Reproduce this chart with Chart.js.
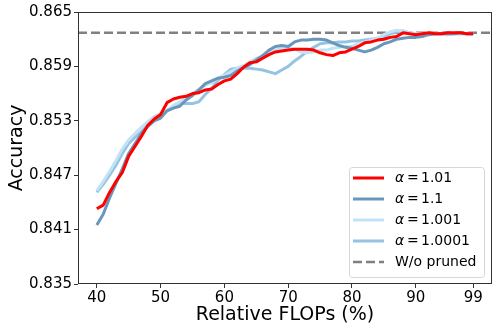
<!DOCTYPE html>
<html>
<head>
<meta charset="utf-8">
<script src="https://cdn.jsdelivr.net/npm/chart.js@4.4.0/dist/chart.umd.min.js"></script>
<style>
    html, body { margin: 0; padding: 0; background: #fff; }
    #wrap { width: 498px; height: 332px; }
</style>
</head>
<body>
<div id="wrap"><canvas id="chart" width="498" height="332"></canvas></div>
<script>
// Relative FLOPs (%) on the x axis
const flops = [40, 41, 42, 43, 44, 45, 46, 47, 48, 49,
               50, 51, 52, 53, 54, 55, 56, 57, 58, 59,
               60, 61, 62, 63, 64, 65, 66, 67, 68, 69,
               70, 71, 72, 73, 74, 75, 76, 77, 78, 79,
               80, 81, 82, 83, 84, 85, 86, 87, 88, 89,
               90, 91, 92, 93, 94, 95, 96, 97, 98, 99];

// alpha = 1.01
const acc101 = [0.8433, 0.8437, 0.8451, 0.8463, 0.8473, 0.8491, 0.8502, 0.8513, 0.8525, 0.8532,
                0.8537, 0.8550, 0.8554, 0.8556, 0.8557, 0.8560, 0.8561, 0.8564, 0.8565, 0.8570,
                0.8574, 0.8576, 0.8582, 0.8589, 0.8594, 0.8595, 0.8599, 0.8603, 0.8606, 0.8607,
                0.8608, 0.8609, 0.8609, 0.8609, 0.8608, 0.8605, 0.8603, 0.8602, 0.8605, 0.8606,
                0.8609, 0.8612, 0.8616, 0.8617, 0.8619, 0.8620, 0.8622, 0.8623, 0.8627, 0.8626,
                0.8625, 0.8626, 0.8627, 0.8626, 0.8626, 0.8627, 0.8627, 0.8627, 0.8626, 0.8626];

// alpha = 1.1
const acc11 = [0.8415, 0.8427, 0.8445, 0.8461, 0.8477, 0.8494, 0.8505, 0.8516, 0.8524, 0.8530,
               0.8533, 0.8541, 0.8544, 0.8546, 0.8553, 0.8558, 0.8564, 0.8571, 0.8574, 0.8577,
               0.8578, 0.8580, 0.8585, 0.8589, 0.8592, 0.8597, 0.8602, 0.8608, 0.8612, 0.8613,
               0.8612, 0.8617, 0.8619, 0.8619, 0.8620, 0.8620, 0.8619, 0.8616, 0.8613, 0.8611,
               0.8610, 0.8608, 0.8606, 0.8608, 0.8611, 0.8615, 0.8617, 0.8620, 0.8621, 0.8622,
               0.8622, 0.8623, 0.8625, 0.8626, 0.8626, 0.8626, 0.8626, 0.8627, 0.8626, 0.8626];

// alpha = 1.001
const acc1001 = [0.8453, 0.8463, 0.8474, 0.8486, 0.8499, 0.8509, 0.8516, 0.8523, 0.8529, 0.8535,
                 0.8538, 0.8541, 0.8547, 0.8551, 0.8555, 0.8559, 0.8565, 0.8569, 0.8572, 0.8577,
                 0.8580, 0.8584, 0.8588, 0.8591, 0.8595, 0.8599, 0.8601, 0.8605, 0.8608, 0.8610,
                 0.8611, 0.8609, 0.8606, 0.8605, 0.8606, 0.8608, 0.8608, 0.8610, 0.8611, 0.8612,
                 0.8612, 0.8615, 0.8617, 0.8619, 0.8621, 0.8625, 0.8628, 0.8630, 0.8629, 0.8627,
                 0.8626, 0.8626, 0.8626, 0.8626, 0.8626, 0.8625, 0.8626, 0.8626, 0.8626, 0.8626];

// alpha = 1.0001
const acc10001 = [0.8451, 0.8460, 0.8470, 0.8481, 0.8494, 0.8505, 0.8512, 0.8518, 0.8526, 0.8532,
                  0.8536, 0.8541, 0.8546, 0.8550, 0.8549, 0.8549, 0.8551, 0.8559, 0.8566, 0.8575,
                  0.8581, 0.8587, 0.8588, 0.8588, 0.8588, 0.8587, 0.8586, 0.8584, 0.8582, 0.8586,
                  0.8590, 0.8596, 0.8601, 0.8607, 0.8611, 0.8615, 0.8616, 0.8616, 0.8617, 0.8617,
                  0.8618, 0.8618, 0.8619, 0.8620, 0.8621, 0.8622, 0.8626, 0.8628, 0.8629, 0.8627,
                  0.8626, 0.8626, 0.8626, 0.8626, 0.8626, 0.8626, 0.8626, 0.8626, 0.8626, 0.8626];

// unpruned model accuracy (horizontal dashed line)
const baseline = 0.8627;

const alphaLabels = ['1.01', '1.1', '1.001', '1.0001'];
const xTicks = [40, 50, 60, 70, 80, 90, 99];
const yTicks = [0.835, 0.841, 0.847, 0.853, 0.859, 0.865];
const xMin = 37.05;
const xMax = 101.95;

function toPoints(values) {
    return flops.map((f, i) => ({ x: f, y: values[i] }));
}

// Frame around the plot area (all four spines)
const frame = {
    id: 'frame',
    afterDatasetsDraw(chart) {
        const { ctx, chartArea: a } = chart;
        ctx.save();
        ctx.strokeStyle = '#333';
        ctx.lineWidth = 1;
        ctx.strokeRect(a.left + 0.5, a.top + 0.5, a.right - a.left - 1, a.bottom - a.top - 1);
        ctx.restore();
    }
};

// Legend drawn inside the plot, bottom right
const insideLegend = {
    id: 'insideLegend',
    afterDraw(chart) {
        const { ctx, chartArea: a } = chart;
        const boxW = 135, boxH = 110;
        const bx = a.right - boxW - 8;
        const by = a.bottom - boxH - 7;
        ctx.save();
        ctx.fillStyle = 'rgba(255,255,255,0.85)';
        ctx.strokeStyle = '#d6d6d6';
        ctx.lineWidth = 1;
        ctx.beginPath();
        ctx.roundRect(bx + 0.5, by + 0.5, boxW, boxH, 3);
        ctx.fill();
        ctx.stroke();

        chart.data.datasets.forEach((ds, i) => {
            const yy = by + 11 + i * 21;
            ctx.strokeStyle = ds.borderColor;
            ctx.lineWidth = ds.borderWidth;
            ctx.setLineDash(ds.borderDash || []);
            ctx.beginPath();
            ctx.moveTo(bx + 4, yy);
            ctx.lineTo(bx + 35, yy);
            ctx.stroke();
            ctx.setLineDash([]);

            ctx.fillStyle = '#000';
            ctx.textBaseline = 'middle';
            ctx.textAlign = 'left';
            if (i < alphaLabels.length) {
                // math-style label: italic alpha, spaced equals sign
                ctx.font = 'italic 14px "DejaVu Sans"';
                ctx.fillText('α', bx + 46, yy);
                ctx.font = '14px "DejaVu Sans"';
                ctx.fillText('=', bx + 58, yy);
                ctx.fillText(alphaLabels[i], bx + 72, yy);
            } else {
                ctx.font = '14px "DejaVu Sans"';
                ctx.fillText(ds.label, bx + 46, yy);
            }
        });
        ctx.restore();
    }
};

const ctx = document.getElementById('chart').getContext('2d');

new Chart(ctx, {
    type: 'line',
    data: {
        datasets: [
            { label: 'α = 1.01', data: toPoints(acc101), borderColor: '#ff0000', borderWidth: 3 },
            { label: 'α = 1.1', data: toPoints(acc11), borderColor: '#6997bc', borderWidth: 3 },
            { label: 'α = 1.001', data: toPoints(acc1001), borderColor: '#c2e2f6', borderWidth: 3 },
            { label: 'α = 1.0001', data: toPoints(acc10001), borderColor: '#97c3e2', borderWidth: 3 },
            {
                label: 'W/o pruned',
                data: [{ x: xMin, y: baseline }, { x: xMax, y: baseline }],
                borderColor: '#808080',
                borderWidth: 2.5,
                borderDash: [9, 4]
            }
        ]
    },
    options: {
        responsive: false,
        devicePixelRatio: 1,
        animation: false,
        events: [],
        elements: {
            point: { radius: 0 },
            line: { tension: 0, fill: false, borderCapStyle: 'butt', borderJoinStyle: 'round' }
        },
        layout: { padding: { top: 12, right: 6, left: 0, bottom: 0 } },
        plugins: {
            legend: { display: false },
            tooltip: { enabled: false }
        },
        scales: {
            x: {
                type: 'linear',
                min: xMin,
                max: xMax,
                afterBuildTicks: axis => { axis.ticks = xTicks.map(v => ({ value: v })); },
                afterFit: axis => { axis.height = 48; },
                border: { display: false },
                grid: { drawOnChartArea: false, drawTicks: true, tickLength: 4, tickColor: '#333' },
                ticks: {
                    padding: 1,
                    color: '#000',
                    font: { family: 'DejaVu Sans', size: 15 },
                    maxRotation: 0,
                    callback: v => String(v)
                },
                title: {
                    display: true,
                    text: 'Relative FLOPs (%)',
                    color: '#000',
                    font: { family: 'DejaVu Sans', size: 19 },
                    padding: { top: 0, bottom: 6 }
                }
            },
            y: {
                min: 0.835,
                max: 0.865,
                afterBuildTicks: axis => { axis.ticks = yTicks.map(v => ({ value: v })); },
                afterFit: axis => { axis.width = 78; },
                border: { display: false },
                grid: { drawOnChartArea: false, drawTicks: true, tickLength: 4, tickColor: '#333' },
                ticks: {
                    padding: 2,
                    color: '#000',
                    font: { family: 'DejaVu Sans', size: 15 },
                    callback: v => v.toFixed(3)
                },
                title: {
                    display: true,
                    text: 'Accuracy',
                    color: '#000',
                    font: { family: 'DejaVu Sans', size: 19 },
                    padding: { top: 6, bottom: 0 }
                }
            }
        }
    },
    plugins: [frame, insideLegend]
});
</script>
</body>
</html>
